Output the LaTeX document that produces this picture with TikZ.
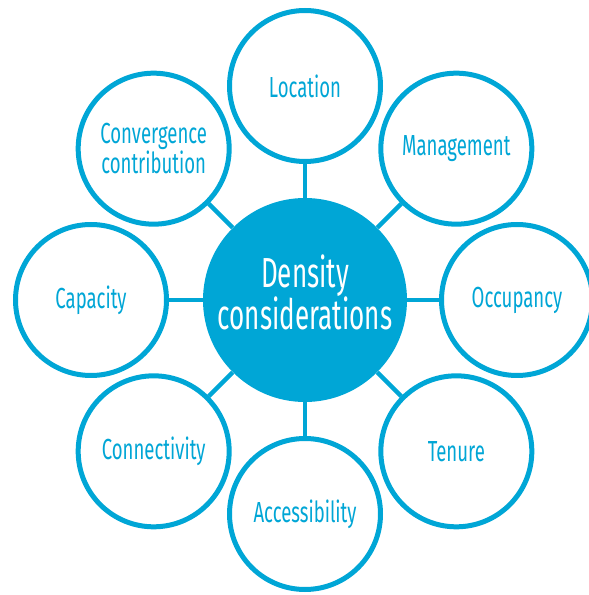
\documentclass[tikz,border=0pt]{standalone}
\usepackage{fontspec}
\setmainfont{Fira Sans}[FakeStretch=0.64]
\newfontfamily\hubfont{Fira Sans}[FakeStretch=0.62]
\definecolor{cerulean}{RGB}{0, 166, 214}
\definecolor{slate}{RGB}{120, 120, 120}

\begin{document}
\begin{tikzpicture}[x=1pt, y=1pt,
    hub/.style={circle, fill=cerulean, minimum size=204pt, inner sep=0pt, text=white, align=center,
                text depth=16pt, font=\hubfont\fontsize{42}{40}\selectfont},
    topic/.style={circle, draw=cerulean, fill=white, line width=5pt, minimum size=151pt, inner sep=0pt,
                text=cerulean, align=center, font=\fontsize{29}{28}\selectfont},
    spoke/.style={cerulean, line width=4.5pt}]
            \useasboundingbox (0,0) rectangle (589,595);
            % cut-off letter at the left edge
            \node[text=slate, font=\fontsize{29}{28}\selectfont, anchor=east] (stub) at (4,515) {s};
            % centre
            \node[hub] (density) at (305,295) {Density\\considerations};
            % ring of topics
            \node[topic] (location)     at ([shift={(90:214)}]density.center)  {Location};
            \node[topic] (management)   at ([shift={(45:214)}]density.center)  {Management};
            \node[topic] (occupancy)    at ([shift={(0:212)}]density.center)   {Occupancy};
            \node[topic] (tenure)       at ([shift={(-45:214)}]density.center) {Tenure};
            \node[topic] (accessibility) at ([shift={(-90:214)}]density.center) {Accessibility};
            \node[topic] (connectivity) at ([shift={(-135:214)}]density.center) {Connectivity};
            \node[topic] (capacity)     at ([shift={(180:214)}]density.center) {Capacity};
            \node[topic] (convergence)  at ([shift={(135:214)}]density.center) {Convergence\\contribution};
            \foreach \n in {location, management, occupancy, tenure, accessibility, connectivity, capacity, convergence}
                \draw[spoke] (density) -- (\n);
        \end{tikzpicture}
\end{document}
